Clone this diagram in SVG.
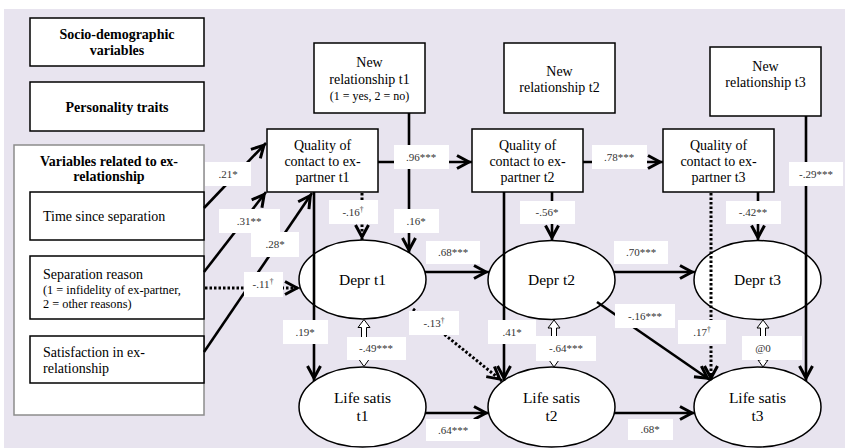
<svg xmlns="http://www.w3.org/2000/svg" width="845" height="448" viewBox="0 0 845 448">
<defs>
<marker id="ah" markerUnits="userSpaceOnUse" markerWidth="20" markerHeight="20" refX="0" refY="0" orient="auto" overflow="visible" viewBox="-20 -10 20 20">
<path d="M-15,-6.5 L-3,0 L-15,6.5" fill="none" stroke="#000" stroke-width="3"/>
</marker>
<style>
text{font-family:Liberation Serif, Tinos, Times New Roman, Times, DejaVu Serif, Noto Serif, FreeSerif, serif;fill:#000}
.box{fill:#fff;stroke:#000;stroke-width:1.5}
.cont{fill:#fff;stroke:#8c8c8c;stroke-width:1.5}
.ell{fill:#fff;stroke:#000;stroke-width:1.5}
.hd{font-size:14px;font-weight:bold;text-anchor:middle}
.t{font-size:14px;text-anchor:middle}
.tl{font-size:14px}
.ts{font-size:12.3px}
.te{font-size:15.5px;text-anchor:middle}
.ln{fill:none;stroke:#000;stroke-width:2.6;marker-end:url(#ah)}
.dt{fill:none;stroke:#000;stroke-width:3;stroke-dasharray:2.5 2;marker-end:url(#ah)}
.lb{fill:#fff;stroke:none}
.lt{font-size:11px;text-anchor:middle;fill:#333}
.sup{font-size:7.5px}
.dbl{fill:#fff;stroke:#000;stroke-width:1}
</style>
</defs>
<rect x="4" y="9" width="841" height="439" fill="#E8E4EF"/>

<g id="socio">
<rect class="box" x="30" y="18" width="174" height="48"/>
<text class="hd" x="117" y="39">Socio-demographic</text>
<text class="hd" x="117" y="55">variables</text>
</g>
<g id="personality">
<rect class="box" x="30" y="82" width="174" height="49"/>
<text class="hd" x="117" y="112">Personality traits</text>
</g>
<g id="exrel">
<rect class="cont" x="14" y="145" width="190" height="270"/>
<text class="hd" x="109" y="166">Variables related to ex-</text>
<text class="hd" x="109" y="181">relationship</text>
</g>
<g id="time">
<rect class="box" x="30" y="192" width="174" height="48"/>
<text class="tl" x="43" y="221">Time since separation</text>
</g>
<g id="reason">
<rect class="box" x="30" y="256" width="174" height="63"/>
<text class="tl" x="43" y="279">Separation reason</text>
<text class="ts" x="43" y="294">(1 = infidelity of ex-partner,</text>
<text class="ts" x="43" y="308">2 = other reasons)</text>
</g>
<g id="satisfaction">
<rect class="box" x="30" y="336" width="174" height="47"/>
<text class="tl" x="43" y="357">Satisfaction in ex-</text>
<text class="tl" x="43" y="373">relationship</text>
</g>

<g id="newrel1">
<rect class="box" x="314" y="43" width="111" height="70"/>
<text class="t" x="369.5" y="67">New</text>
<text class="t" x="369.5" y="84">relationship t1</text>
<text class="t" x="369.5" y="100" style="font-size:12px">(1 = yes, 2 = no)</text>
</g>
<g id="newrel2">
<rect class="box" x="504" y="43" width="111" height="70"/>
<text class="t" x="559.5" y="76">New</text>
<text class="t" x="559.5" y="92">relationship t2</text>
</g>
<g id="newrel3">
<rect class="box" x="710" y="47" width="111" height="69"/>
<text class="t" x="765.5" y="71">New</text>
<text class="t" x="765.5" y="87">relationship t3</text>
</g>

<g id="qual1">
<rect class="box" x="267" y="129" width="111" height="63"/>
<text class="t" x="322.5" y="150">Quality of</text>
<text class="t" x="322.5" y="166">contact to ex-</text>
<text class="t" x="322.5" y="182">partner t1</text>
</g>
<g id="qual2">
<rect class="box" x="472" y="129" width="111" height="63"/>
<text class="t" x="527.5" y="150">Quality of</text>
<text class="t" x="527.5" y="166">contact to ex-</text>
<text class="t" x="527.5" y="182">partner t2</text>
</g>
<g id="qual3">
<rect class="box" x="663" y="129" width="111" height="63"/>
<text class="t" x="718.5" y="150">Quality of</text>
<text class="t" x="718.5" y="166">contact to ex-</text>
<text class="t" x="718.5" y="182">partner t3</text>
</g>

<g id="depr1">
<ellipse class="ell" cx="362.5" cy="279.5" rx="63.5" ry="39.5"/>
<text class="te" x="362.5" y="285">Depr t1</text>
</g>
<g id="depr2">
<ellipse class="ell" cx="551.5" cy="280" rx="63.5" ry="39.5"/>
<text class="te" x="551.5" y="285">Depr t2</text>
</g>
<g id="depr3">
<ellipse class="ell" cx="757.5" cy="280" rx="63.5" ry="39.5"/>
<text class="te" x="757.5" y="285">Depr t3</text>
</g>
<g id="life1">
<ellipse class="ell" cx="362.5" cy="407" rx="63.5" ry="40"/>
<text class="te" x="362.5" y="403">Life satis</text>
<text class="te" x="362.5" y="421">t1</text>
</g>
<g id="life2">
<ellipse class="ell" cx="551.5" cy="407" rx="63.5" ry="40"/>
<text class="te" x="551.5" y="403">Life satis</text>
<text class="te" x="551.5" y="421">t2</text>
</g>
<g id="life3">
<ellipse class="ell" cx="757.5" cy="407" rx="63.5" ry="40"/>
<text class="te" x="757.5" y="403">Life satis</text>
<text class="te" x="757.5" y="421">t3</text>
</g>

<g id="connectors">
<line class="ln" x1="204" y1="208" x2="266" y2="143"/>
<line class="ln" x1="204" y1="272" x2="266" y2="192"/>
<line class="ln" x1="204" y1="352" x2="312" y2="193"/>
<line class="dt" x1="205" y1="288" x2="300" y2="288"/>
<line class="ln" x1="378" y1="162" x2="472" y2="162"/>
<line class="ln" x1="583" y1="162" x2="663" y2="162"/>
<line class="ln" x1="409" y1="113" x2="409" y2="253"/>
<line class="dt" x1="362" y1="193" x2="362" y2="240"/>
<line class="ln" x1="314" y1="192" x2="314" y2="381"/>
<line class="ln" x1="504" y1="192" x2="504" y2="381"/>
<line class="ln" x1="552" y1="192" x2="552" y2="240.5"/>
<line class="dt" x1="711" y1="193" x2="711" y2="381"/>
<line class="ln" x1="758" y1="192" x2="758" y2="240.5"/>
<line class="ln" x1="806" y1="116" x2="806" y2="381"/>
<line class="ln" x1="425" y1="272" x2="489" y2="272"/>
<line class="ln" x1="614" y1="272" x2="695" y2="272"/>
<line class="ln" x1="425" y1="413" x2="489" y2="413"/>
<line class="ln" x1="614" y1="413" x2="695" y2="413"/>
<line class="dt" x1="413" y1="309" x2="502" y2="381"/>
<line class="ln" x1="597" y1="302" x2="710" y2="380"/>
<path class="dbl" d="M364,319.5 L370,327.5 L366.5,327.5 L366.5,359.5 L369,359.5 L364,366.5 L359,359.5 L361.5,359.5 L361.5,327.5 L358,327.5 Z"/>
<path class="dbl" d="M554,320 L560,328 L556.5,328 L556.5,360 L559,360 L554,367 L549,360 L551.5,360 L551.5,328 L548,328 Z"/>
<path class="dbl" d="M763,320 L769,328 L765.5,328 L765.5,360 L768,360 L763,367 L758,360 L760.5,360 L760.5,328 L757,328 Z"/>

<rect class="lb" x="205" y="162" width="46" height="24"/><text class="lt" x="228" y="178">.21*</text>
<rect class="lb" x="219" y="209" width="61" height="24"/><text class="lt" x="249" y="225">.31**</text>
<rect class="lb" x="251" y="232" width="48" height="25"/><text class="lt" x="275" y="248">.28*</text>
<rect class="lb" x="244" y="272" width="39" height="25"/><text class="lt" x="263" y="288">-.11<tspan class="sup" dy="-4">†</tspan></text>
<rect class="lb" x="394" y="145" width="55" height="24"/><text class="lt" x="421" y="161">.96***</text>
<rect class="lb" x="329" y="200" width="49" height="24"/><text class="lt" x="353" y="216">-.16<tspan class="sup" dy="-4">†</tspan></text>
<rect class="lb" x="394" y="209" width="45" height="24"/><text class="lt" x="416" y="225">.16*</text>
<rect class="lb" x="426" y="241" width="54" height="23"/><text class="lt" x="453" y="256">.68***</text>
<rect class="lb" x="283" y="320" width="45" height="24"/><text class="lt" x="305" y="336">.19*</text>
<rect class="lb" x="347" y="337" width="59" height="23"/><text class="lt" x="376" y="352">-.49***</text>
<rect class="lb" x="409" y="311" width="50" height="24"/><text class="lt" x="434" y="327">-.13<tspan class="sup" dy="-4">†</tspan></text>
<rect class="lb" x="426" y="419" width="54" height="22"/><text class="lt" x="453" y="434">.64***</text>
<rect class="lb" x="488" y="320" width="48" height="24"/><text class="lt" x="512" y="336">.41*</text>
<rect class="lb" x="520" y="201" width="55" height="23"/><text class="lt" x="547" y="216">-.56*</text>
<rect class="lb" x="592" y="145" width="55" height="24"/><text class="lt" x="619" y="161">.78***</text>
<rect class="lb" x="536" y="336" width="60" height="25"/><text class="lt" x="566" y="352">-.64***</text>
<rect class="lb" x="614" y="241" width="54" height="23"/><text class="lt" x="641" y="256">.70***</text>
<rect class="lb" x="615" y="304" width="60" height="24"/><text class="lt" x="645" y="320">-.16***</text>
<rect class="lb" x="628" y="419" width="45" height="21"/><text class="lt" x="650" y="433">.68*</text>
<rect class="lb" x="678" y="320" width="48" height="24"/><text class="lt" x="702" y="336">.17<tspan class="sup" dy="-4">†</tspan></text>
<rect class="lb" x="726" y="201" width="55" height="23"/><text class="lt" x="753" y="216">-.42**</text>
<rect class="lb" x="789" y="162" width="54" height="24"/><text class="lt" x="816" y="178">-.29***</text>
<rect class="lb" x="742" y="336" width="60" height="24"/><text class="lt" x="763" y="352">@0</text>
</g>
</svg>
